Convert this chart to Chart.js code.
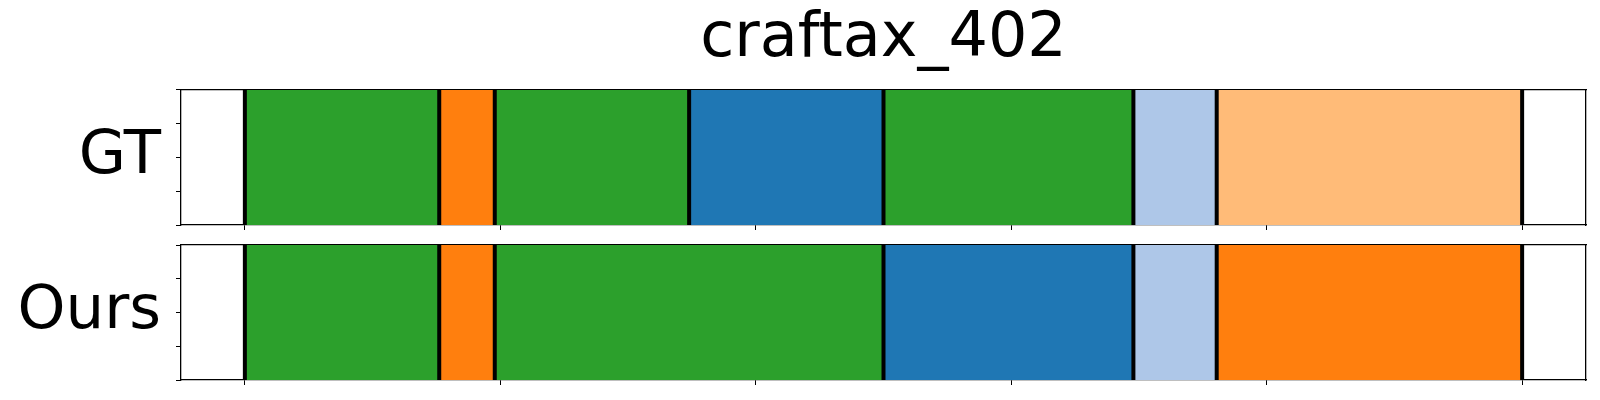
<!DOCTYPE html>
<html>
<head>
<meta charset="utf-8">
<script src="https://cdn.jsdelivr.net/npm/chart.js@4.4.1/dist/chart.umd.min.js"></script>
<style>
  html, body { margin: 0; padding: 0; background: #fff; }
  #wrap { position: relative; width: 1600px; height: 400px; overflow: hidden; }
  canvas { position: absolute; left: 0; }
</style>
</head>
<body>
<div id="wrap">
  <canvas id="c1" width="1600" height="235" style="top:0px;width:1600px;height:235px"></canvas>
  <canvas id="c2" width="1600" height="165" style="top:235px;width:1600px;height:165px"></canvas>
</div>
<script>
// ---- data ----
const chartTitle = 'craftax_402';
const rowLabels = ['GT', 'Ours'];
const totalFrames = 46;
const xTicks = [0, 9.2, 18.4, 27.6, 36.8, 46];
const yTicks = [0, 0.25, 0.5, 0.75, 1];
const gtBounds = [0, 7, 9, 16, 23, 32, 35, 46];
const gtClasses = ['green', 'orange', 'green', 'blue', 'green', 'lightblue', 'lightorange'];
const oursBounds = [0, 7, 9, 23, 32, 35, 46];
const oursClasses = ['green', 'orange', 'green', 'blue', 'lightblue', 'orange'];

// ---- styles ----
const classColors = {
  green: '#2ca02c', orange: '#ff7f0e', blue: '#1f77b4',
  lightblue: '#aec7e8', lightorange: '#ffbb78'
};
const FONT = 'DejaVu Sans';
const FSIZE = 62;
const LABEL_SIZE = 61;
const margin = totalFrames * 0.05;

function buildDatasets(bounds, classes) {
  const ds = [];
  for (let i = 0; i < classes.length; i++) {
    ds.push({
      type: 'bar',
      data: [[bounds[i], bounds[i + 1]]],
      backgroundColor: classColors[classes[i]],
      borderWidth: 0,
      xAxisID: 'x', yAxisID: 'yc',
      grouped: false,
      categoryPercentage: 1, barPercentage: 1,
      order: 2
    });
  }
  for (const b of bounds) {
    ds.push({
      type: 'line',
      data: [{x: b, y: 0}, {x: b, y: 1}],
      borderColor: '#000', borderWidth: 4,
      pointRadius: 0, fill: false,
      xAxisID: 'x', yAxisID: 'y',
      order: 0, clip: false
    });
  }
  return ds;
}

function makeChart(id, label, bounds, classes, withTitle, pad) {
  return new Chart(document.getElementById(id), {
    type: 'bar',
    data: { labels: [label], datasets: buildDatasets(bounds, classes) },
    options: {
      indexAxis: 'y',
      responsive: false,
      animation: false,
      layout: { padding: pad },
      plugins: {
        legend: { display: false },
        tooltip: { enabled: false },
        title: {
          display: withTitle,
          fullSize: false,
          text: chartTitle,
          color: '#000',
          font: { family: FONT, size: FSIZE, weight: 'normal', lineHeight: 1.2 },
          padding: { top: 3, bottom: 12.6 }
        }
      },
      scales: {
        x: {
          type: 'linear', position: 'bottom', offset: false,
          min: -margin, max: totalFrames + margin,
          afterBuildTicks: s => { s.ticks = xTicks.map(v => ({value: v})); },
          afterFit: s => { s.height = 10; s.paddingLeft = 0; s.paddingRight = 0; },
          ticks: { display: false, autoSkip: false },
          grid: { offset: false, drawOnChartArea: false, drawTicks: true, tickLength: 5, color: '#000', lineWidth: 1 },
          border: { display: true, color: '#000', width: 1.3 }
        },
        x2: {
          type: 'linear', position: 'top', axis: 'x', offset: false,
          min: -margin, max: totalFrames + margin,
          afterFit: s => { s.height = 0; },
          ticks: { display: false },
          grid: { display: false },
          border: { display: true, color: '#000', width: 1.3 }
        },
        y: {
          type: 'linear', position: 'left', offset: false,
          min: 0, max: 1,
          afterBuildTicks: s => { s.ticks = yTicks.map(v => ({value: v})); },
          afterFit: s => { s.width = 181; s.paddingTop = 0; s.paddingBottom = 0; },
          ticks: {
            color: '#000', padding: 15, autoSkip: false,
            font: { family: FONT, size: LABEL_SIZE },
            callback: v => (Math.abs(v - 0.5) < 1e-9 ? label : '')
          },
          grid: { offset: false, drawOnChartArea: false, drawTicks: true, tickLength: 5, color: '#000', lineWidth: 1 },
          border: { display: true, color: '#000', width: 1.3 }
        },
        y2: {
          type: 'linear', position: 'right', axis: 'y', offset: false,
          min: 0, max: 1,
          afterFit: s => { s.width = 0; },
          ticks: { display: false },
          grid: { display: false, offset: false },
          border: { display: true, color: '#000', width: 1.3 }
        },
        yc: {
          type: 'category', display: false, offset: true
        }
      }
    }
  });
}

makeChart('c1', rowLabels[0], gtBounds, gtClasses, true, { top: 0, left: 0, right: 14, bottom: 0 });
makeChart('c2', rowLabels[1], oursBounds, oursClasses, false, { top: 10, left: 0, right: 14, bottom: 10 });
</script>
</body>
</html>
